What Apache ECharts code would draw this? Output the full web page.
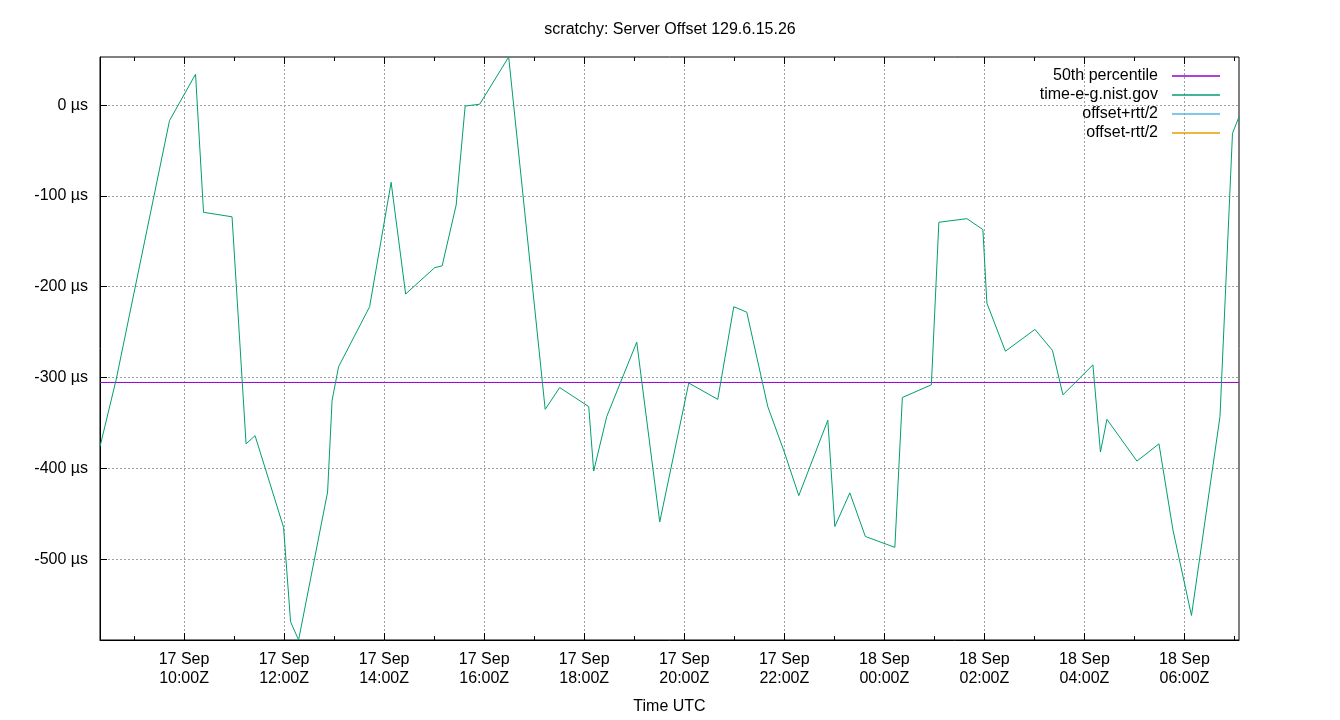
<!DOCTYPE html>
<html>
<head>
<meta charset="utf-8">
<script src="https://cdn.jsdelivr.net/npm/echarts@6/dist/echarts.min.js"></script>
<style>
html,body{margin:0;padding:0;background:#fff;}
#chart{width:1340px;height:720px;}
</style>
</head>
<body>
<div id="chart"></div>
<script>
// Time in hours since 17 Sep 00:00Z
const timesH = [8.32, 8.64, 9.71, 10.23, 10.39, 10.96, 11.24, 11.42, 11.99, 12.13, 12.29, 12.87, 12.96, 13.09, 13.71, 14.14, 14.43, 15.01, 15.16, 15.44, 15.62, 15.91, 16.49, 17.22, 17.51, 18.09, 18.19, 18.45, 19.05, 19.51, 20.09, 20.67, 20.99, 21.25, 21.67, 22.00, 22.29, 22.87, 23.01, 23.31, 23.62, 24.21, 24.36, 24.94, 25.09, 25.65, 25.97, 26.05, 26.42, 27.01, 27.36, 27.57, 28.17, 28.32, 28.45, 29.05, 29.49, 29.77, 30.14, 30.71, 30.96, 31.09];
// Offset in microseconds (time-e-g.nist.gov)
const offsetsUs = [-376, -303, -17, 34, -118, -123, -373, -364, -465, -569, -589, -426, -325, -288, -222, -85, -208, -179, -177, -110, -1, 1, 53, -335, -311, -332, -403, -343, -261, -459, -306, -324, -222, -228, -332, -382, -430, -347, -464, -427, -475, -487, -322, -308, -129, -125, -137, -218, -271, -247, -270, -319, -286, -382, -346, -392, -373, -468, -562, -343, -31, -13];
const percentile50 = -305.4;
const seriesNames = ['50th percentile', 'time-e-g.nist.gov', 'offset+rtt/2', 'offset-rtt/2'];
const seriesColors = ['#9400d3', '#009e73', '#56b4e9', '#e69f00'];
const offsetPlusRtt = [];
const offsetMinusRtt = [];
const xMajorTicks = [10, 12, 14, 16, 18, 20, 22, 24, 26, 28, 30];
const xMinorTicks = [9, 11, 13, 15, 17, 19, 21, 23, 25, 27, 29, 31];
const yTicks = [-500, -400, -300, -200, -100, 0];
const titleText = 'scratchy: Server Offset 129.6.15.26';
const xAxisTitle = 'Time UTC';

const FONT = '"Liberation Sans", Arial, sans-serif';
const xMin = timesH[0], xMax = timesH[timesH.length - 1];
const yMin = Math.min(...offsetsUs), yMax = Math.max(...offsetsUs);

function pad2(n){ return (n < 10 ? '0' : '') + n; }
function xLabel(v){
  const day = v >= 24 ? '18 Sep' : '17 Sep';
  const h = Math.round(v) % 24;
  return day + '\n' + pad2(h) + ':00Z';
}

const mainData = timesH.map((t, i) => [t, offsetsUs[i]]);
const medianData = [[xMin, percentile50], [xMax, percentile50]];

const gridLine = {show: true, lineStyle: {color: '#a0a0a0', type: [2, 2], width: 1}};

function tickAxis(position, values, len, extra) {
  return Object.assign({
    type: 'value', position: position, min: xMin, max: xMax,
    axisLine: {show: false, onZero: false},
    axisTick: {show: true, inside: true, length: len, customValues: values, lineStyle: {color: '#000', width: 1}},
    axisLabel: {show: false},
    splitLine: {show: false}
  }, extra || {});
}

const chart = echarts.init(document.getElementById('chart'), null, {renderer: 'canvas'});
chart.setOption({
  animation: false,
  backgroundColor: '#fff',
  title: {
    text: titleText, left: 'center', top: 17,
    textStyle: {fontFamily: FONT, fontSize: 16, fontWeight: 'normal', color: '#000'}
  },
  legend: {
    data: seriesNames,
    orient: 'vertical', align: 'right', right: 115, top: 63,
    icon: 'rect',
    itemWidth: 48, itemHeight: 1.5, itemGap: 3,
    textStyle: {fontFamily: FONT, fontSize: 16, color: '#000', padding: [0, 9, 0, 0]},
    selectedMode: false
  },
  grid: {left: 100, right: 101, top: 57, bottom: 80, show: true, borderColor: '#000', borderWidth: 1, containLabel: false},
  xAxis: [
    {
      type: 'value', position: 'bottom', min: xMin, max: xMax,
      name: xAxisTitle, nameLocation: 'middle', nameGap: 59,
      nameTextStyle: {fontFamily: FONT, fontSize: 16, color: '#000'},
      axisLine: {show: true, onZero: false, lineStyle: {color: '#000', width: 1}},
      axisTick: {show: true, inside: true, length: 7, customValues: xMajorTicks, lineStyle: {color: '#000', width: 1}},
      axisLabel: {show: true, customValues: xMajorTicks, formatter: xLabel, margin: 10,
        fontFamily: FONT, fontSize: 16, lineHeight: 19, color: '#000'},
      splitLine: gridLine
    },
    tickAxis('bottom', xMinorTicks, 4),
    tickAxis('top', xMajorTicks, 7),
    tickAxis('top', xMinorTicks, 4)
  ],
  yAxis: [{
    type: 'value', position: 'left', min: yMin, max: yMax,
    axisLine: {show: true, onZero: false, lineStyle: {color: '#000', width: 1}},
    axisTick: {show: true, inside: true, length: 7, customValues: yTicks, lineStyle: {color: '#000', width: 1}},
    axisLabel: {show: true, customValues: yTicks, formatter: v => v + ' µs', margin: 12,
      fontFamily: FONT, fontSize: 16, color: '#000'},
    splitLine: gridLine
  }],
  series: [
    {name: seriesNames[0], type: 'line', xAxisIndex: 0, data: medianData, symbol: 'none',
      lineStyle: {color: seriesColors[0], width: 1}, itemStyle: {color: seriesColors[0]}, silent: true},
    {name: seriesNames[1], type: 'line', xAxisIndex: 0, data: mainData, symbol: 'none',
      lineStyle: {color: seriesColors[1], width: 1}, itemStyle: {color: seriesColors[1]}, silent: true},
    {name: seriesNames[2], type: 'line', xAxisIndex: 0, data: offsetPlusRtt, symbol: 'none',
      lineStyle: {color: seriesColors[2], width: 1}, itemStyle: {color: seriesColors[2]}, silent: true},
    {name: seriesNames[3], type: 'line', xAxisIndex: 0, data: offsetMinusRtt, symbol: 'none',
      lineStyle: {color: seriesColors[3], width: 1}, itemStyle: {color: seriesColors[3]}, silent: true}
  ]
});
</script>
</body>
</html>
